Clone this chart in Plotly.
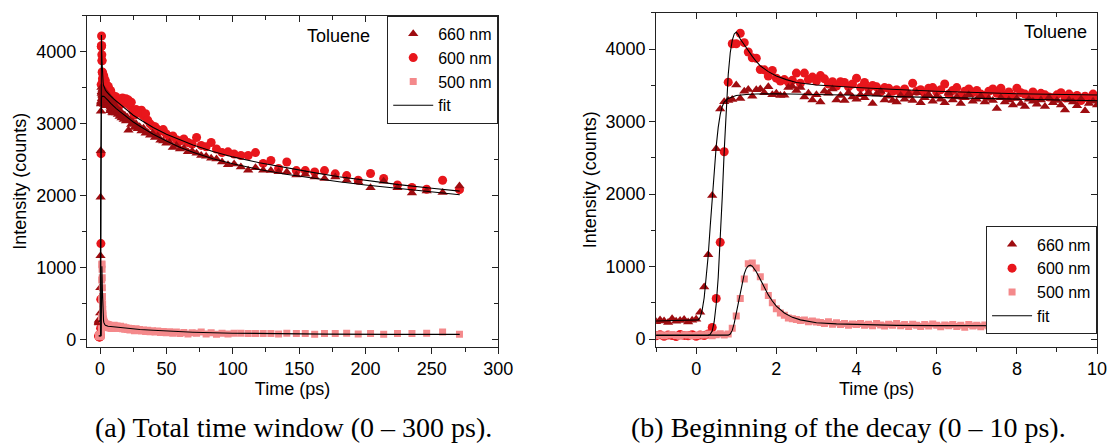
import plotly.graph_objects as go

# ---------------- data ----------------
# time grid, fine step near excitation (ps)
t_early = [-1.0, -0.9, -0.8, -0.7, -0.6, -0.5, -0.4, -0.3, -0.2, -0.1, 0.0,
           0.1, 0.2, 0.3, 0.4, 0.5, 0.6, 0.7, 0.8, 0.9, 1.0,
           1.1, 1.2, 1.3, 1.4, 1.5, 1.6, 1.7, 1.8, 1.9, 2.0,
           2.1, 2.2, 2.3, 2.4, 2.5, 2.6, 2.7, 2.8, 2.9, 3.0,
           3.1, 3.2, 3.3, 3.4, 3.5, 3.6, 3.7, 3.8, 3.9, 4.0,
           4.1, 4.2, 4.3, 4.4, 4.5, 4.6, 4.7, 4.8, 4.9, 5.0,
           5.1, 5.2, 5.3, 5.4, 5.5, 5.6, 5.7, 5.8, 5.9, 6.0,
           6.1, 6.2, 6.3, 6.4, 6.5, 6.6, 6.7, 6.8, 6.9, 7.0,
           7.1, 7.2, 7.3, 7.4, 7.5, 7.6, 7.7, 7.8, 7.9, 8.0,
           8.1, 8.2, 8.3, 8.4, 8.5, 8.6, 8.7, 8.8, 8.9, 9.0,
           9.1, 9.2, 9.3, 9.4, 9.5, 9.6, 9.7, 9.8, 9.9, 10.0]

# time grid, logarithmic step for the long decay (ps)
t_late = [10.6, 11.1, 11.6, 12.2, 12.8, 13.4, 14.0, 14.7, 15.4, 16.2,
          16.9, 17.8, 18.6, 19.5, 20.5, 21.4, 22.5, 23.5, 24.7, 25.9,
          27.1, 28.4, 29.8, 31.2, 32.7, 34.3, 35.9, 37.7, 39.5, 41.4,
          43.4, 45.5, 47.6, 49.9, 52.3, 54.8, 57.5, 60.2, 63.1, 66.2,
          69.4, 72.7, 76.2, 79.9, 83.7, 87.7, 91.9, 96.4, 101.0, 106.1,
          111.6, 117.1, 122.9, 128.7, 134.5, 140.7, 147.9, 154.6, 161.7, 169.1,
          177.2, 185.8, 194.5, 203.8, 213.7, 224.1, 235.0, 246.1, 258.1, 270.8]

i660_early = [240, 265, 250, 230, 280, 245, 255, 270, 235, 260, 275,
              370, 720, 1165, 1980, 2625, 3175, 3275, 3290, 3305, 3505,
              3320, 3420, 3445, 3350, 3440, 3450, 3400, 3480, 3370, 3390,
              3360, 3365, 3470, 3485, 3430, 3470, 3340, 3390, 3300, 3370,
              3270, 3420, 3390, 3450, 3300, 3360, 3290, 3400, 3340, 3310,
              3370, 3330, 3400, 3250, 3380, 3420, 3300, 3350, 3290, 3270,
              3360, 3310, 3380, 3290, 3400, 3260, 3330, 3370, 3280, 3350,
              3310, 3260, 3390, 3300, 3340, 3250, 3330, 3370, 3280, 3310,
              3350, 3270, 3320, 3290, 3180, 3330, 3270, 3300, 3230, 3320,
              3250, 3210, 3310, 3280, 3240, 3300, 3210, 3330, 3260, 3290,
              3230, 3160, 3300, 3270, 3220, 3310, 3150, 3250, 3280, 3230]

i600_early = [45, 60, 40, 55, 50, 35, 65, 50, 45, 60, 40,
              55, 50, 70, 160, 560, 1335, 2585, 3545, 4075, 4075,
              4220, 4090, 3960, 3880, 3875, 3720, 3715, 3630, 3705, 3600,
              3560, 3580, 3545, 3570, 3670, 3530, 3670, 3580, 3615, 3560,
              3635, 3590, 3520, 3550, 3490, 3550, 3540, 3480, 3520, 3600,
              3470, 3540, 3460, 3500, 3480, 3410, 3470, 3460, 3420, 3440,
              3400, 3450, 3380, 3530, 3420, 3440, 3390, 3460, 3470, 3410,
              3440, 3520, 3380, 3430, 3470, 3360, 3420, 3450, 3400, 3430,
              3380, 3360, 3420, 3450, 3390, 3460, 3370, 3410, 3350, 3460,
              3400, 3380, 3350, 3410, 3330, 3390, 3370, 3340, 3330, 3370,
              3400, 3330, 3380, 3310, 3360, 3290, 3350, 3310, 3380, 3330]

i500_early = [50, 60, 45, 55, 65, 50, 40, 60, 55, 45, 50,
              60, 55, 70, 45, 60, 75, 55, 70, 150, 320,
              560, 830, 1040, 1050, 980, 860, 720, 600, 500, 420,
              360, 330, 290, 280, 270, 255, 265, 240, 250, 235,
              230, 215, 240, 205, 225, 200, 215, 190, 210, 200,
              215, 190, 205, 185, 215, 195, 180, 205, 190, 215,
              185, 200, 175, 205, 190, 175, 200, 180, 210, 190,
              170, 195, 185, 200, 175, 190, 165, 200, 180, 190,
              170, 195, 180, 165, 190, 175, 195, 165, 185, 170,
              190, 165, 180, 175, 160, 185, 170, 190, 165, 180,
              160, 185, 170, 155, 180, 190, 160, 175, 165, 185]

i660_late = [3260, 3180, 3240, 3150, 3210, 3130, 3190, 3100, 3170, 3080,
             3140, 3060, 3120, 3040, 3090, 2910, 3050, 2990, 3020, 2950,
             3000, 2930, 2960, 2900, 2940, 2870, 2880, 2840, 2870, 2810,
             2830, 2770, 2760, 2730, 2740, 2670, 2700, 2650, 2660, 2610,
             2620, 2590, 2560, 2550, 2520, 2510, 2470, 2430, 2440, 2400,
             2355, 2390, 2355, 2350, 2335, 2330, 2290, 2300, 2260, 2240,
             2260, 2215, 2195, 2110, 2200, 2110, 2040, 2065, 2045, 2135]

i600_late = [3360, 3300, 3380, 3290, 3330, 3270, 3320, 3260, 3350, 3290,
             3360, 3320, 3300, 3350, 3280, 3330, 3250, 3300, 3170, 3120,
             3200, 3180, 3150, 3190, 3110, 3140, 3050, 3000, 2970, 2960,
             2920, 2900, 2920, 2860, 2820, 2830, 2780, 2760, 2790, 2740,
             2720, 2810, 2700, 2680, 2740, 2650, 2600, 2610, 2580, 2560,
             2560, 2600, 2450, 2490, 2380, 2470, 2350, 2350, 2330, 2350,
             2305, 2280, 2215, 2310, 2240, 2150, 2115, 2090, 2215, 2085]

i500_late = [200, 170, 185, 160, 190, 165, 175, 155, 185, 160,
             150, 175, 145, 165, 140, 160, 135, 155, 140, 125,
             150, 130, 140, 120, 135, 115, 130, 110, 125, 105,
             120, 100, 115, 95, 110, 90, 105, 85, 100, 80,
             95, 90, 105, 80, 95, 75, 90, 80, 90, 90,
             85, 85, 85, 85, 80, 90, 85, 85, 75, 85,
             85, 90, 80, 85, 75, 85, 85, 90, 105, 75]

# fitted curves
fit660_t = [-1.0, 0.0, 0.05, 0.1, 0.15, 0.2, 0.25, 0.3, 0.35, 0.4,
            0.45, 0.5, 0.55, 0.6, 0.65, 0.7, 0.8, 0.9, 1.0, 1.25,
            1.5, 2.0, 3.0, 4.0, 5.0, 6.0, 8.0, 10.0, 12.0, 15.0,
            20.0, 25.0, 30.0, 40.0, 50.0, 60.0, 70.0, 85.0, 100.0, 120.0,
            140.0, 160.0, 180.0, 200.0, 225.0, 250.0, 271.0]
fit660_y = [250, 255, 265, 300, 400, 570, 820, 1150, 1550, 1960,
            2340, 2660, 2920, 3100, 3210, 3270, 3320, 3345, 3360, 3375,
            3382, 3385, 3380, 3365, 3345, 3325, 3285, 3245, 3215, 3170,
            3095, 3025, 2965, 2855, 2760, 2675, 2605, 2515, 2445, 2365,
            2300, 2245, 2195, 2150, 2100, 2055, 2015]

fit600_t = [-1.0, 0.3, 0.35, 0.4, 0.45, 0.5, 0.55, 0.6, 0.65, 0.7,
            0.75, 0.8, 0.85, 0.9, 0.95, 1.0, 1.05, 1.1, 1.2, 1.3,
            1.4, 1.5, 1.6, 1.8, 2.0, 2.25, 2.5, 3.0, 3.5, 4.0,
            5.0, 6.0, 8.0, 10.0, 12.0, 15.0, 20.0, 25.0, 30.0, 40.0,
            50.0, 60.0, 70.0, 85.0, 100.0, 120.0, 140.0, 160.0, 180.0, 200.0,
            225.0, 250.0, 271.0]
fit600_y = [50, 52, 65, 110, 240, 480, 850, 1350, 1950, 2600,
            3200, 3650, 3950, 4120, 4210, 4235, 4200, 4140, 4060, 3975,
            3900, 3830, 3770, 3690, 3630, 3580, 3540, 3505, 3485, 3470,
            3443, 3420, 3385, 3350, 3320, 3270, 3190, 3120, 3060, 2950,
            2855, 2775, 2705, 2615, 2540, 2460, 2390, 2325, 2265, 2215,
            2155, 2105, 2065]

fit500_t = [-1.0, 0.8, 0.85, 0.9, 0.95, 1.0, 1.05, 1.1, 1.15, 1.2,
            1.25, 1.3, 1.35, 1.4, 1.5, 1.6, 1.7, 1.8, 1.9, 2.0,
            2.2, 2.4, 2.6, 2.8, 3.0, 3.5, 4.0, 5.0, 6.0, 8.0,
            10.0, 15.0, 20.0, 30.0, 40.0, 50.0, 70.0, 100.0, 130.0, 170.0,
            220.0, 271.0]
fit500_y = [55, 55, 70, 120, 220, 350, 500, 650, 790, 900,
            975, 1010, 1020, 1005, 930, 820, 710, 610, 525, 455,
            360, 300, 265, 240, 225, 210, 200, 190, 186, 182,
            178, 168, 158, 142, 130, 120, 104, 90, 82, 77,
            74, 73]

series_labels = ["660 nm", "600 nm", "500 nm"]
captions = ["(a) Total time window (0 \u2013 300 ps).",
            "(b) Beginning of the decay (0 \u2013 10 ps)."]

# ---------------- styling ----------------
W, H = 1117, 444
SANS = "Liberation Sans, Arial, sans-serif"
SERIF = "Liberation Serif, Times New Roman, serif"
C660, C600, C500 = "#9e0c10", "#e8161c", "#f4898b"
AXC = "#222222"

t_all = t_early + t_late
i660 = i660_early + i660_late
i600 = i600_early + i600_late
i500 = i500_early + i500_late

fig = go.Figure()

panels = [
    dict(x="x", y="y", legend="legend"),
    dict(x="x2", y="y2", legend="legend2"),
]

for p in panels:
    common = dict(xaxis=p["x"], yaxis=p["y"], legend=p["legend"], hoverinfo="skip")
    fig.add_trace(go.Scatter(x=t_all, y=i600, mode="markers", name=series_labels[1],
                             marker=dict(symbol="circle", size=9, color=C600),
                             legendrank=2, **common))
    fig.add_trace(go.Scatter(x=t_all, y=i660, mode="markers", name=series_labels[0],
                             marker=dict(symbol="triangle-up", size=9, color=C660),
                             legendrank=1, **common))
    fig.add_trace(go.Scatter(x=t_all, y=i500, mode="markers", name=series_labels[2],
                             marker=dict(symbol="square", size=7, color=C500),
                             legendrank=3, **common))
    for j, (ft, fy) in enumerate([(fit660_t, fit660_y), (fit600_t, fit600_y), (fit500_t, fit500_y)]):
        fig.add_trace(go.Scatter(x=ft, y=fy, mode="lines", name="fit",
                                 line=dict(color="black", width=1.1),
                                 showlegend=(j == 0), legendrank=4, **common))

# empty traces that host the mirrored (top/right) tick axes
for xa, ya in [("x3", "y3"), ("x4", "y4")]:
    fig.add_trace(go.Scatter(x=[None], y=[None], xaxis=xa, yaxis=ya,
                             showlegend=False, hoverinfo="skip"))

tickfont = dict(family=SANS, size=18, color="black")
titlefont = dict(family=SANS, size=18, color="black")


def base_axis(rng, dtick, minor_dtick, ticks, title=None, labels=True):
    ax = dict(range=rng, dtick=dtick, tick0=0, showgrid=False, zeroline=False,
              showline=True, linecolor=AXC, linewidth=1,
              ticks=ticks, ticklen=6, tickwidth=1, tickcolor=AXC,
              minor=dict(dtick=minor_dtick, tick0=0, ticks=ticks, ticklen=4,
                         tickwidth=1, tickcolor=AXC, showgrid=False),
              showticklabels=labels, tickfont=tickfont)
    if title:
        ax["title"] = dict(text=title, font=titlefont, standoff=4)
    return ax


L1, R1 = 88, 505
L2, R2 = 665, 1112
xl = [L1 / W, R1 / W]
xr = [L2 / W, R2 / W]
yl = [1 - 349 / H, 1 - 16 / H]
yr = [1 - 349 / H, 1 - 13 / H]

x1_rng, y1_rng = [-10, 300], [-97, 4500]
x2_rng, y2_rng = [-1, 10], [-104, 4500]

legend_style = dict(bgcolor="white", bordercolor=AXC, borderwidth=1,
                    font=dict(family=SANS, size=16, color="black"),
                    itemwidth=40, tracegroupgap=0, traceorder="normal")

fig.update_layout(
    width=W, height=H,
    margin=dict(l=0, r=0, t=0, b=0),
    paper_bgcolor="white", plot_bgcolor="white",
    font=dict(family=SANS, size=18, color="black"),
    xaxis=dict(domain=xl, anchor="y", **base_axis(x1_rng, 50, 25, "outside", "Time (ps)")),
    yaxis=dict(domain=yl, anchor="x", **base_axis(y1_rng, 1000, 500, "outside", "Intensity (counts)")),
    xaxis2=dict(domain=xr, anchor="y2", **base_axis(x2_rng, 2, 1, "outside", "Time (ps)")),
    yaxis2=dict(domain=yr, anchor="x2", **base_axis(y2_rng, 1000, 500, "outside", "Intensity (counts)")),
    xaxis3=dict(overlaying="x", side="top", anchor="y",
                **base_axis(x1_rng, 50, 25, "inside", labels=False)),
    yaxis3=dict(overlaying="y", side="right", anchor="x",
                **base_axis(y1_rng, 1000, 500, "inside", labels=False)),
    xaxis4=dict(overlaying="x2", side="top", anchor="y2",
                **base_axis(x2_rng, 2, 1, "inside", labels=False)),
    yaxis4=dict(overlaying="y2", side="right", anchor="x2",
                **base_axis(y2_rng, 1000, 500, "inside", labels=False)),
    legend=dict(x=R1 / W, xanchor="right", y=1 - 16 / H, yanchor="top", **legend_style),
    legend2=dict(x=R2 / W, xanchor="right", y=1 - 228 / H, yanchor="top", **legend_style),
    showlegend=True,
)

fig.add_annotation(text="Toluene", x=377 / W, y=1 - 36 / H, xref="paper", yref="paper",
                   xanchor="right", yanchor="middle", showarrow=False,
                   font=dict(family=SANS, size=18, color="black"))
fig.add_annotation(text="Toluene", x=(R2 - 8) / W, y=1 - 32 / H, xref="paper", yref="paper",
                   xanchor="right", yanchor="middle", showarrow=False,
                   font=dict(family=SANS, size=18, color="black"))

fig.add_annotation(text=captions[0], x=298 / W, y=1 - 430 / H, xref="paper", yref="paper",
                   xanchor="center", yanchor="middle", showarrow=False,
                   font=dict(family=SERIF, size=28, color="black"))
fig.add_annotation(text=captions[1], x=860 / W, y=1 - 430 / H, xref="paper", yref="paper",
                   xanchor="center", yanchor="middle", showarrow=False,
                   font=dict(family=SERIF, size=28, color="black"))

fig.write_html("out.html")
